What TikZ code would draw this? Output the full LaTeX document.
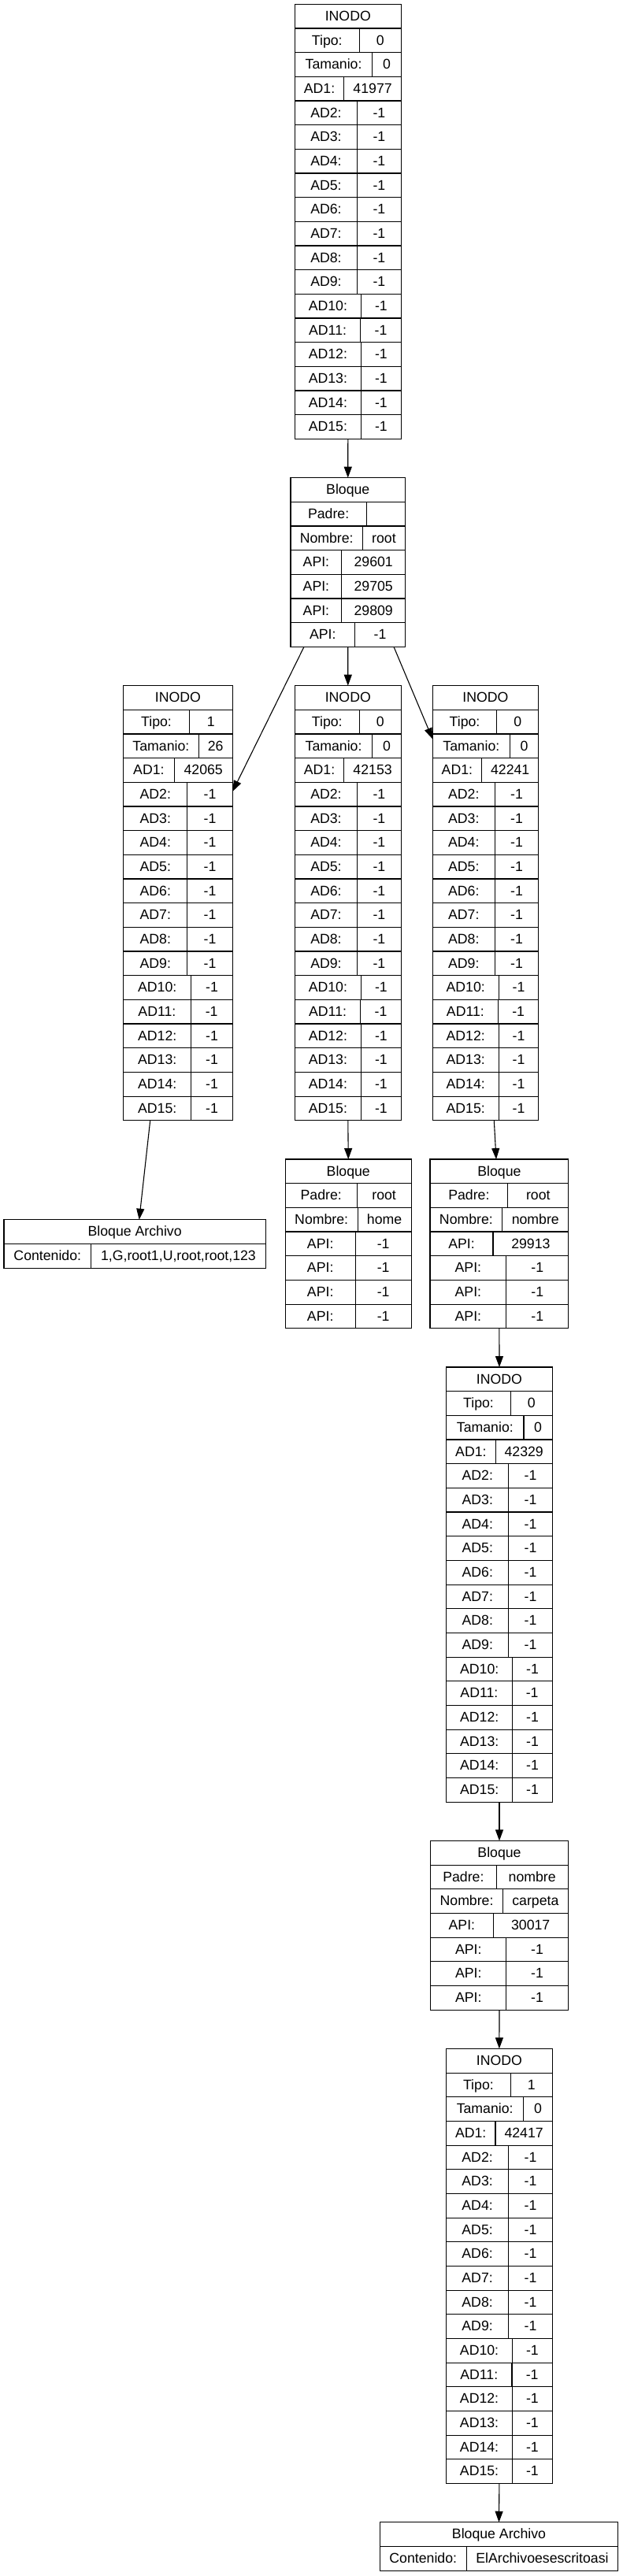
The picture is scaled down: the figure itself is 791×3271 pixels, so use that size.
\documentclass[tikz,border=0pt]{standalone}
\usepackage{fontspec}
\setmainfont{Liberation Sans}
\usetikzlibrary{arrows.meta}
\newsavebox\boxA
\newcommand\rf{\fontsize{17.7pt}{21pt}\selectfont}
\newcommand\rh{30.67}
\makeatletter
% store the width (in pt, no unit) of a text, measured outside the picture
\newcommand\mw[1]{\sbox\boxA{\rf #1}\dimen@=\wd\boxA
  \expandafter\xdef\csname w@#1\endcsname{\strip@pt\dimen@}}
\makeatother
\tikzset{
  recline/.style={draw=black, line width=1.1pt},
  rectxt/.style={font=\rf, inner sep=0pt, anchor=base},
  recframe/.style={draw=black, line width=1.1pt, inner sep=0pt, outer sep=0pt, anchor=north west},
  conn/.style={draw=black, line width=1.1pt, -{Triangle[length=14pt,width=10pt]}}
}
% one row: name, left, right, top, label, value
\newcommand\recrow[6]{%
  \edef\wA{\csname w@#5\endcsname}%
  \edef\wB{\csname w@#6\endcsname}%
  \pgfmathsetmacro\rTop{#4}%
  \pgfmathsetmacro\rBot{\rTop+\rh}%
  \pgfmathsetmacro\rBase{\rTop+21.2}%
  \pgfmathsetmacro\rSx{#2+(#3-#2+\wA-\wB)/2}%
  \pgfmathsetmacro\rLx{(#2+\rSx)/2}%
  \pgfmathsetmacro\rVx{(\rSx+#3)/2}%
  \draw[recline] (#2,\rTop) -- (#3,\rTop);
  \draw[recline] (\rSx,\rTop) -- (\rSx,\rBot);
  \node[rectxt] (#1l) at (\rLx,\rBase) {#5};
  \node[rectxt] (#1v) at (\rVx,\rBase) {#6};
}
\newcommand\rechead[5]{%
  \pgfmathsetmacro\rBase{#4+21.2}%
  \pgfmathsetmacro\rCx{(#2+#3)/2}%
  \node[rectxt] (#1) at (\rCx,\rBase) {#5};
}
\newcommand\mkbox[5]{%
  \pgfmathsetmacro\rW{#3-#2}%
  \pgfmathsetmacro\rH{#5*\rh}%
  \node[recframe, minimum width=\rW pt, minimum height=\rH pt] (#1) at (#2,#4) {};
}
\newcommand\inode[7]{%
  \mkbox{#1}{#2}{#3}{#4}{18}
  \rechead{#1h}{#2}{#3}{#4}{INODO}
  \recrow{#1r1}{#2}{#3}{#4+\rh}{Tipo:}{#5}
  \recrow{#1r2}{#2}{#3}{#4+2*\rh}{Tamanio:}{#6}
  \recrow{#1r3}{#2}{#3}{#4+3*\rh}{AD1:}{#7}
  \foreach \k in {2,...,15}{\recrow{#1a\k}{#2}{#3}{#4+(\k+2)*\rh}{AD\k:}{-1}}
}
\newcommand\bloque[9]{%
  \mkbox{#1}{#2}{#3}{#4}{7}
  \rechead{#1h}{#2}{#3}{#4}{Bloque}
  \recrow{#1r1}{#2}{#3}{#4+\rh}{Padre:}{#5}
  \recrow{#1r2}{#2}{#3}{#4+2*\rh}{Nombre:}{#6}
  \recrow{#1r3}{#2}{#3}{#4+3*\rh}{API:}{#7}
  \recrow{#1r4}{#2}{#3}{#4+4*\rh}{API:}{#8}
  \recrow{#1r5}{#2}{#3}{#4+5*\rh}{API:}{#9}
  \recrow{#1r6}{#2}{#3}{#4+6*\rh}{API:}{-1}
}
\newcommand\barch[5]{%
  \mkbox{#1}{#2}{#3}{#4}{2}
  \rechead{#1h}{#2}{#3}{#4}{Bloque Archivo}
  \recrow{#1r1}{#2}{#3}{#4+\rh}{Contenido:}{#5}
}
\begin{document}%
\mw{Tipo:}\mw{Tamanio:}\mw{Padre:}\mw{Nombre:}\mw{API:}\mw{Contenido:}%
\foreach \k in {1,...,15}{\mw{AD\k:}}%
\mw{0}\mw{1}\mw{26}\mw{-1}\mw{41977}\mw{42065}\mw{42153}\mw{42241}\mw{42329}\mw{42417}%
\mw{root}\mw{home}\mw{nombre}\mw{carpeta}%
\mw{29601}\mw{29705}\mw{29809}\mw{29913}\mw{30017}%
\mw{1,G,root1,U,root,root,123}\mw{ElArchivoesescritoasi}%
\expandafter\gdef\csname w@\endcsname{5}%
\begin{tikzpicture}[x=1pt,y=-1pt]
\fill[white] (0,0) rectangle (791,3271);
\useasboundingbox (0,0) rectangle (791,3271);

\inode{N1}{374.3}{509.3}{5.3}{0}{0}{41977}
\bloque{B1}{369}{514.5}{606.66}{}{root}{29601}{29705}{29809}
\inode{N2}{156.7}{295.3}{870.65}{1}{26}{42065}
\inode{N3}{374.3}{509.3}{870.65}{0}{0}{42153}
\inode{N4}{549.2}{683.8}{870.65}{0}{0}{42241}
\barch{BA1}{5}{337.3}{1548.7}{1,G,root1,U,root,root,123}
\bloque{B2}{362.3}{522.2}{1472.01}{root}{home}{-1}{-1}{-1}
\bloque{B3}{546}{721.8}{1472.01}{root}{nombre}{29913}{-1}{-1}
\inode{N5}{566.7}{701.3}{1736}{0}{0}{42329}
\bloque{B4}{546.7}{721.3}{2337.36}{nombre}{carpeta}{30017}{-1}{-1}
\inode{N6}{566.5}{701.3}{2601.35}{1}{0}{42417}
\barch{BA2}{482.3}{784.7}{3202.71}{ElArchivoesescritoasi}

\draw[conn] (N1.south) -- (B1.north);
\draw[conn] ([xshift=17pt]B1.south west) -- ([yshift=-134.4pt]N2.north east);
\draw[conn] (B1.south) -- (N3.north);
\draw[conn] ([xshift=-14.5pt]B1.south east) -- ([yshift=-67.7pt]N4.north west);
\draw[conn] ([xshift=34pt]N2.south west) -- ([xshift=171.7pt]BA1.north west);
\draw[conn] (N3.south) -- (B2.north);
\draw[conn] ([xshift=10.8pt]N4.south) -- ([xshift=-3.9pt]B3.north);
\draw[conn] (B3.south) -- (N5.north);
\draw[conn] (N5.south) -- (B4.north);
\draw[conn] (B4.south) -- (N6.north);
\draw[conn] (N6.south) -- (BA2.north);
\end{tikzpicture}%
\end{document}
